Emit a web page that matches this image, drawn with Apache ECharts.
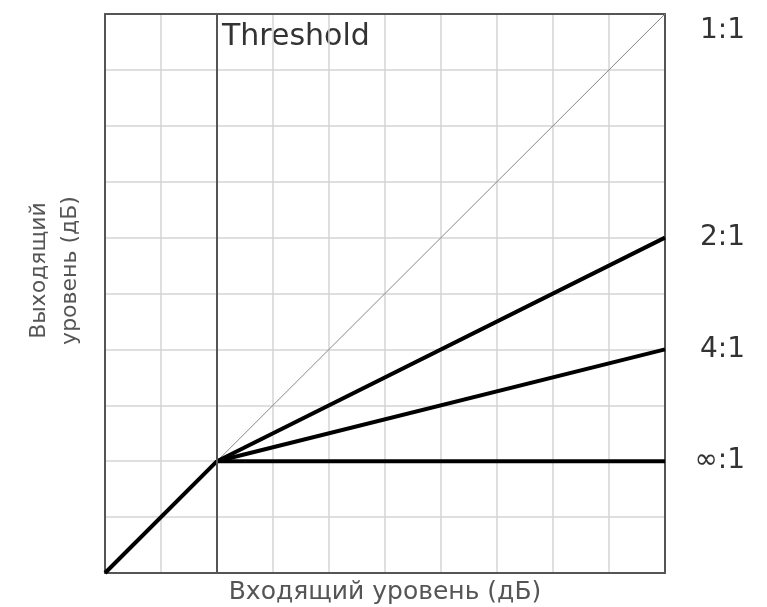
<!DOCTYPE html>
<html>
<head>
<meta charset="utf-8">
<script src="https://cdn.jsdelivr.net/npm/echarts@6/dist/echarts.min.js"></script>
<style>
html,body{margin:0;padding:0;background:#fff;}
#main{width:767px;height:607px;}
</style>
</head>
<body>
<div id="main"></div>
<script>
/*数据*/
var threshold = 2;
var baseLine = [[0,0],[2,2]];          // 阈值以下 1:1
var ratioNames = ["1:1","2:1","4:1","∞:1"];
var ratioLines = [
    [[2,2],[10,10]],
    [[2,2],[10,6]],
    [[2,2],[10,4]],
    [[2,2],[10,2]]
];
var xName = "Входящий уровень (дБ)";
var yName = "Выходящий\nуровень (дБ)";

var myChart = echarts.init(document.getElementById('main'));

var series = [{
    type:'line', data:baseLine, symbol:'none', silent:true, z:3,
    lineStyle:{color:'#000', width:4},
    markLine:{
        symbol:'none', silent:true,
        label:{show:false},
        lineStyle:{color:'#555', width:2, type:'solid'},
        data:[{xAxis:threshold}]
    }
}];
for(var i=0;i<ratioLines.length;i++){
    series.push({
        name:ratioNames[i], type:'line', data:ratioLines[i], symbol:'none', silent:true, z:3,
        lineStyle:{color: i==0 ? '#888' : '#000', width: i==0 ? 1 : 4},
        endLabel:{
            show:true, formatter:'{a}', distance:80, align:'right',
            offset:[0, i==0 ? 17 : 0],
            fontFamily:'DejaVu Sans', fontSize:28, color:'#333'
        }
    });
}

/*边框：上下左右各一条轴线*/
var axisBase = {
    type:'value', min:0, max:10, interval:1,
    axisTick:{show:false}, axisLabel:{show:false},
    axisLine:{show:true, onZero:false, lineStyle:{color:'#555', width:2}}
};

myChart.setOption({
    animation:false,
    backgroundColor:'#fff',
    grid:{left:105, right:102, top:14, bottom:34, outerBoundsMode:'none', containLabel:false},
    xAxis:[
        echarts.util.merge({
            position:'bottom',
            name:xName, nameLocation:'middle', nameGap:7,
            nameTextStyle:{fontFamily:'DejaVu Sans', fontSize:25, color:'#555'},
            splitLine:{show:true, showMinLine:false, showMaxLine:false, lineStyle:{color:'#d4d4d4', width:1.5}}
        }, axisBase, true),
        echarts.util.merge({position:'top', splitLine:{show:false}}, axisBase, true)
    ],
    yAxis:[
        echarts.util.merge({
            position:'left',
            name:yName, nameLocation:'middle', nameGap:19, nameRotate:90,
            nameTextStyle:{fontFamily:'DejaVu Sans', fontSize:22, color:'#555', lineHeight:31, padding:[0,0,0,46]},
            splitLine:{show:true, showMinLine:false, showMaxLine:false, lineStyle:{color:'#d4d4d4', width:1.5}}
        }, axisBase, true),
        echarts.util.merge({position:'right', splitLine:{show:false}}, axisBase, true)
    ],
    graphic:[{
        type:'text', left:222, top:22,
        style:{text:'Threshold', fontFamily:'DejaVu Sans', fontSize:30, fill:'#333'}
    }],
    series:series
});
</script>
</body>
</html>
